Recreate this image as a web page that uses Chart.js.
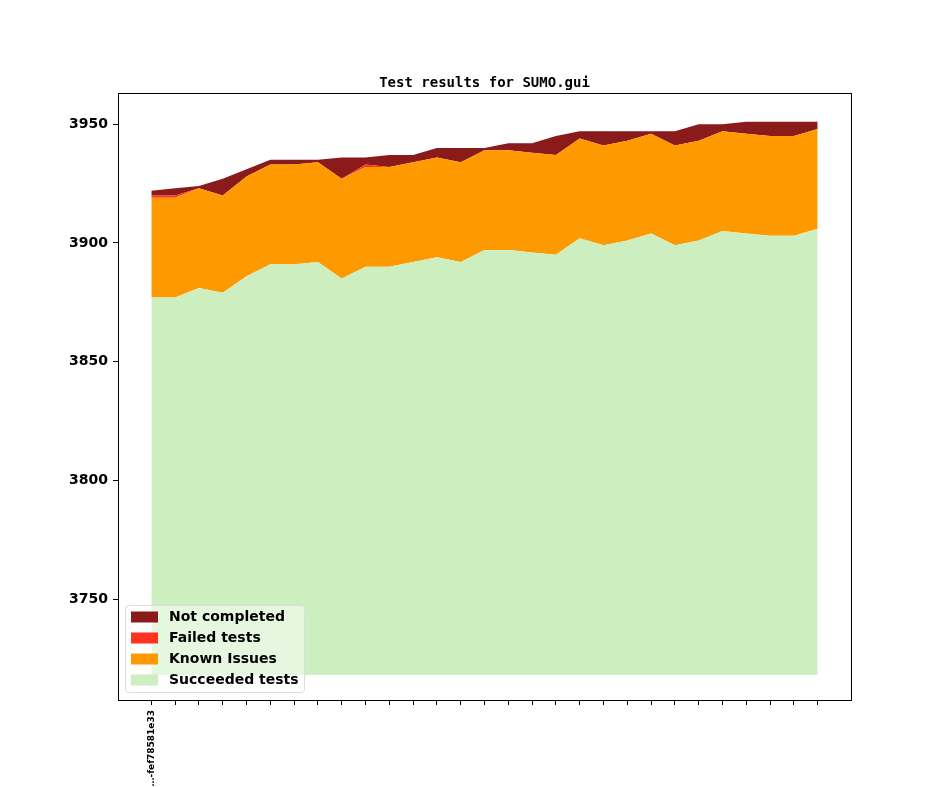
<!DOCTYPE html>
<html lang="en">
<head>
  <meta charset="UTF-8">
  <title>Test results for SUMO.gui</title>
  <style>
    html,body{margin:0;padding:0;background:#fff;overflow:hidden}
    #wrap{width:944px;height:787px;position:relative}
  </style>
  <script src="https://cdn.jsdelivr.net/npm/chart.js"></script>
</head>
<body>
  <div id="wrap"><canvas id="stack"></canvas></div>
  <script>
    // one entry per commit, only the first one carries a label
    const commits = ['…-fef78581e33', '', '', '', '', '', '', '', '', '', '', '', '', '', '', '', '', '', '', '', '', '', '', '', '', '', '', '', ''];
    const succeeded = [3877,3877,3881,3879,3886,3891,3891,3892,3885,3890,3890,3892,3894,3892,3897,3897,3896,3895,3902,3899,3901,3904,3899,3901,3905,3904,3903,3903,3906];
    const knownIssues = [42,42,42,41,42,42,42,42,42,42,42,42,42,42,42,42,42,42,42,42,42,42,42,42,42,42,42,42,42];
    const failed = [1,1,0,0,0,0,0,0,0,1,0,0,0,0,0,0,0,0,0,0,0,0,0,0,0,0,0,0,0];
    const notCompleted = [2,3,1,7,3,2,2,1,9,3,5,3,4,6,1,3,4,8,3,6,4,1,6,7,3,5,6,6,3];
    const baseline = 3718;
    const yTicks = [3750, 3800, 3850, 3900, 3950];

    const series = [
      { label: 'Succeeded tests', values: succeeded,    color: '#cdeebe' },
      { label: 'Known Issues',    values: knownIssues,  color: '#ff9900' },
      { label: 'Failed tests',    values: failed,       color: '#ff331f' },
      { label: 'Not completed',   values: notCompleted, color: '#8b1a1a' }
    ];

    const boldFont = 'DejaVu Sans';

    const datasets = series.map((s, k) => ({
      label: s.label,
      data: s.values.map((v, i) => ({ x: i, y: v })),
      backgroundColor: s.color,
      borderColor: s.color,
      borderWidth: 0,
      pointRadius: 0,
      tension: 0,
      fill: k === 0 ? { value: baseline } : '-1'
    }));

    // black box round the plot and a matplotlib-like legend inside it
    const frameAndLegend = {
      id: 'frameAndLegend',
      afterDraw(chart) {
        const { ctx, chartArea: a } = chart;
        ctx.save();
        ctx.strokeStyle = '#000';
        ctx.lineWidth = 1;
        ctx.strokeRect(Math.round(a.left) + 0.5, Math.round(a.top) + 0.5,
                       Math.round(a.right - a.left), Math.round(a.bottom - a.top));

        const lx = 125.5, ly = 605.5, lw = 179, lh = 87;
        ctx.beginPath();
        ctx.roundRect(lx, ly, lw, lh, 3);
        ctx.fillStyle = 'rgba(255,255,255,0.5)';
        ctx.fill();
        ctx.strokeStyle = '#dcdcdc';
        ctx.stroke();

        ctx.font = 'bold 14px "' + boldFont + '"';
        ctx.textBaseline = 'middle';
        const order = series.slice().reverse();
        order.forEach((s, i) => {
          const cy = 617 + i * 21;
          ctx.fillStyle = s.color;
          ctx.fillRect(131, cy - 5.5, 27, 11);
          ctx.fillStyle = '#000';
          ctx.fillText(s.label, 169, cy + 0.5);
        });
        ctx.restore();
      }
    };

    new Chart(document.getElementById('stack'), {
      type: 'line',
      data: { datasets },
      plugins: [frameAndLegend],
      options: {
        responsive: true,
        maintainAspectRatio: false,
        animation: false,
        layout: { padding: { left: 0, right: 93, top: 0, bottom: 0 } },
        scales: {
          x: {
            type: 'linear',
            min: -1.4,
            max: 29.4,
            afterBuildTicks: s => { s.ticks = commits.map((c, i) => ({ value: i })); },
            afterFit: s => { s.height = 87; },
            grid: { drawOnChartArea: false, drawTicks: true, tickLength: 5, color: '#000' },
            border: { display: false },
            ticks: {
              autoSkip: false,
              minRotation: 90,
              maxRotation: 90,
              padding: 5,
              color: '#000',
              font: { family: boldFont, weight: 'bold', size: 9 },
              callback: v => commits[v] || ''
            }
          },
          y: {
            stacked: true,
            min: 3707.5,
            max: 3963,
            afterBuildTicks: s => { s.ticks = yTicks.map(v => ({ value: v })); },
            afterFit: s => { s.width = 118; },
            grid: { drawOnChartArea: false, drawTicks: true, tickLength: 5, color: '#000' },
            border: { display: false },
            ticks: {
              padding: 5,
              color: '#000',
              font: { family: boldFont, weight: 'bold', size: 14 },
              callback: v => String(v)
            }
          }
        },
        plugins: {
          legend: { display: false },
          tooltip: { enabled: false },
          title: {
            display: true,
            fullSize: false,
            text: 'Test results for SUMO.gui',
            color: '#000',
            font: { family: 'DejaVu Sans Mono', weight: 'bold', size: 14 },
            padding: { top: 75, bottom: 1.5 }
          }
        }
      }
    });
  </script>
</body>
</html>
